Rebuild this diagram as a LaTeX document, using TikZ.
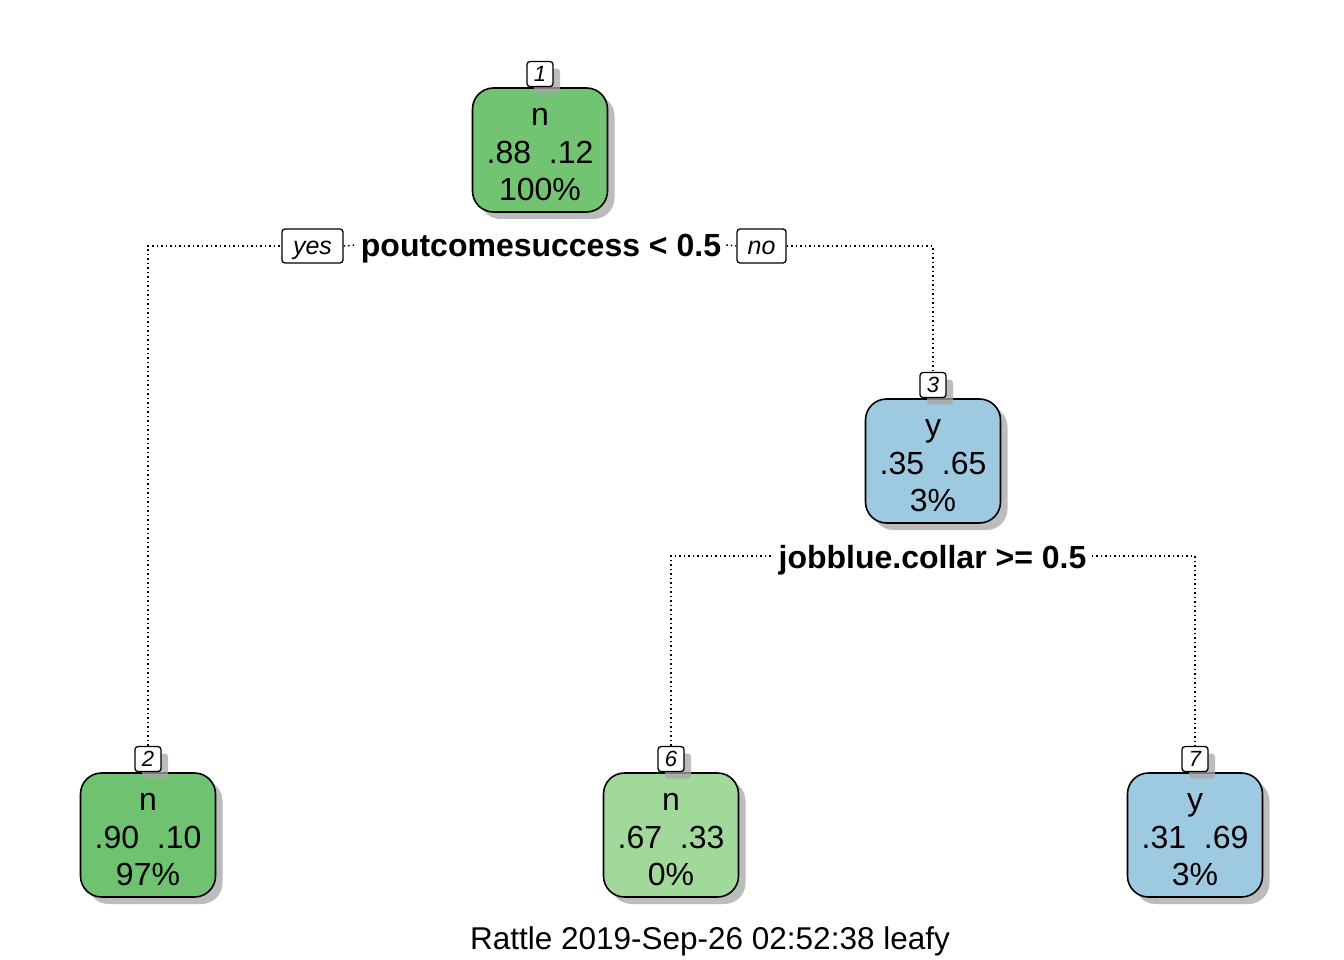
\documentclass[tikz,border=0pt]{standalone}
\usepackage{fontspec}
\setmainfont{Liberation Sans}
\usetikzlibrary{shadows}
\definecolor{gA}{HTML}{72C473}
\definecolor{gB}{HTML}{6FC270}
\definecolor{gC}{HTML}{A1D99B}
\definecolor{bA}{HTML}{9ECAE1}
\tikzset{
  treebox/.style={draw=black, line width=1.6pt, rounded corners=21pt,
    minimum width=135pt, minimum height=124pt, inner sep=0pt,
    drop shadow={shadow xshift=7pt, shadow yshift=-7pt, fill=black!35, opacity=0.75}},
  treetext/.style={align=center, inner sep=0pt, yshift=-5pt,
    font=\fontsize{32}{37.5}\selectfont},
  numbox/.style={draw=black, line width=1.3pt, rounded corners=3pt, fill=white,
    minimum width=26pt, minimum height=25pt, inner sep=0pt, anchor=south,
    font=\fontsize{22}{24}\selectfont\itshape,
    drop shadow={shadow xshift=7pt, shadow yshift=-7pt, fill=black!35, opacity=0.75}},
  dirbox/.style={draw=black, line width=1.3pt, rounded corners=3pt, fill=white,
    minimum height=34pt, inner sep=0pt, text depth=0pt, text height=17pt,
    font=\fontsize{25}{28}\selectfont\itshape},
  splitlab/.style={inner xsep=5pt, inner ysep=0pt, yshift=-4pt,
    font=\fontsize{32}{36}\selectfont\bfseries},
  dotline/.style={line width=1.5pt, dash pattern=on 1.5pt off 3pt},
}
\begin{document}
\begin{tikzpicture}[x=1pt,y=-1pt]
\useasboundingbox[fill=white] (0,0) rectangle (1344,960);
% nodes
\node[treebox, fill=gA] (n1) at (540,150) {};
\node[treetext] (t1) at (n1.center) {n\\.88\ \ .12\\100\%};
\node[numbox] (l1) at (n1.north) {1};
\node[treebox, fill=bA] (n3) at (933,461) {};
\node[treetext] (t3) at (n3.center) {y\\.35\ \ .65\\3\%};
\node[numbox] (l3) at (n3.north) {3};
\node[treebox, fill=gB] (n2) at (148,835) {};
\node[treetext] (t2) at (n2.center) {n\\.90\ \ .10\\97\%};
\node[numbox] (l2) at (n2.north) {2};
\node[treebox, fill=gC] (n6) at (671,835) {};
\node[treetext] (t6) at (n6.center) {n\\.67\ \ .33\\0\%};
\node[numbox] (l6) at (n6.north) {6};
\node[treebox, fill=bA] (n7) at (1195,835) {};
\node[treetext] (t7) at (n7.center) {y\\.31\ \ .69\\3\%};
\node[numbox] (l7) at (n7.north) {7};
% split labels
\node[dirbox, minimum width=61pt] (yes) at (312.5,246) {yes};
\node[splitlab] (s1) at (541,245) {poutcomesuccess < 0.5};
\node[dirbox, minimum width=49pt] (no) at (761.5,246) {no};
\node[splitlab] (s2) at (932.5,556) {jobblue.collar >= 0.5};
% connectors
\draw[dotline] (l2.north) |- (yes.west);
\draw[dotline] (yes.east) -- ([yshift=4pt]s1.west);
\draw[dotline] ([yshift=4pt]s1.east) -- (no.west);
\draw[dotline] (no.east) -| (l3.north);
\draw[dotline] (l6.north) |- ([yshift=4pt]s2.west);
\draw[dotline] ([yshift=4pt]s2.east) -| (l7.north);
% footer
\node[font=\fontsize{31.5}{36}\selectfont, yshift=-3pt] (foot) at (710,938) {Rattle 2019-Sep-26 02:52:38 leafy};
\end{tikzpicture}
\end{document}
